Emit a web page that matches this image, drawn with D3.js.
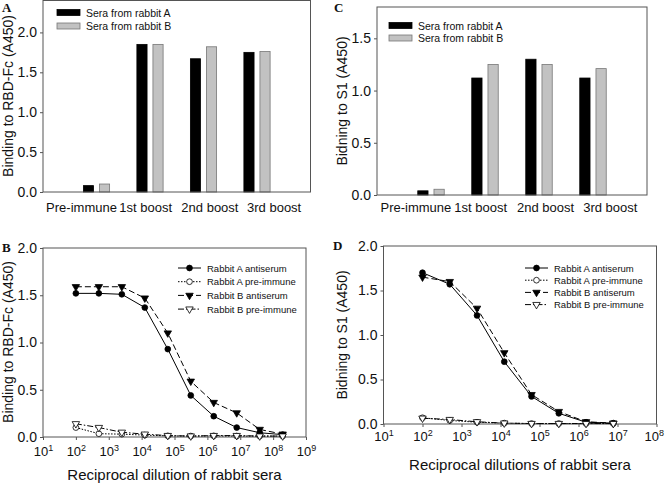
<!DOCTYPE html>
<html><head><meta charset="utf-8">
<script src="https://cdn.jsdelivr.net/npm/d3@7"></script>
<style>body{margin:0;background:#fff}svg{display:block}</style>
</head><body>
<svg id="c" width="665" height="483"></svg>
<script>
// ---------- data ----------
const boosts = ["Pre-immune", "1st boost", "2nd boost", "3rd boost"];
const barSeries = ["Sera from rabbit A", "Sera from rabbit B"];
const rbdRabbitA = [0.08, 1.85, 1.67, 1.75];
const rbdRabbitB = [0.10, 1.85, 1.82, 1.76];
const s1RabbitA = [0.04, 1.12, 1.30, 1.12];
const s1RabbitB = [0.055, 1.25, 1.25, 1.21];
const barTicksA = [0, 0.5, 1.0, 1.5, 2.0];
const barTicksC = [0, 0.5, 1.0, 1.5];

const lineSeries = ["Rabbit A antiserum", "Rabbit A pre-immune", "Rabbit B antiserum", "Rabbit B pre-immune"];
const dilutionsB = [100, 500, 2500, 12500, 62500, 312500, 1562500, 7812500, 39062500, 195312500];
const rbdA_anti = [1.52, 1.52, 1.51, 1.37, 0.93, 0.44, 0.22, 0.10, 0.045, 0.025];
const rbdA_pre  = [0.10, 0.035, 0.03, 0.02, 0.012, 0.01, 0.012, 0.01, 0.01, 0.01];
const rbdB_anti = [1.59, 1.59, 1.59, 1.47, 1.10, 0.59, 0.365, 0.255, 0.08, 0.03];
const rbdB_pre  = [0.14, 0.10, 0.05, 0.03, 0.015, 0.01, 0.015, 0.015, 0.01, 0.01];
const dilutionsD = [100, 500, 2500, 12500, 62500, 312500, 1562500, 7812500];
const s1A_anti = [1.70, 1.57, 1.22, 0.70, 0.31, 0.12, 0.02, 0.01];
const s1A_pre  = [0.07, 0.04, 0.02, 0.01, 0.005, 0.005, 0.005, 0.005];
const s1B_anti = [1.65, 1.60, 1.30, 0.80, 0.33, 0.14, 0.025, 0.01];
const s1B_pre  = [0.065, 0.05, 0.025, 0.01, 0.005, 0.005, 0.005, 0.005];
const lineYTicks = [0, 0.5, 1.0, 1.5, 2.0];
const decadeExpB = [1, 2, 3, 4, 5, 6, 7, 8, 9];
const decadeExpD = [1, 2, 3, 4, 5, 6, 7, 8];

// ---------- drawing ----------
const svg = d3.select("#c");
const W = 665;
const FONT = "Liberation Sans, Arial, sans-serif";
const FRAME = "#555";
const GREY = "#c2c2c2";

function frame(g, l, r, t, b) {
  g.append("rect").attr("x", l).attr("y", t).attr("width", r - l).attr("height", b - t)
    .attr("fill", "none").attr("stroke", FRAME).attr("stroke-width", 1);
}
function yAxis(g, y, left, ticks, size) {
  const ax = g.append("g").attr("transform", `translate(${left},0)`)
    .call(d3.axisLeft(y).tickValues(ticks).tickFormat(d3.format(".1f")).tickSize(3).tickPadding(3));
  ax.select(".domain").remove();
  ax.selectAll(".tick line").attr("stroke", FRAME);
  ax.selectAll(".tick text").attr("font-family", FONT).attr("font-size", size).attr("fill", "#111");
}
function letter(txt, x, y) {
  svg.append("text").attr("x", x).attr("y", y).text(txt)
    .attr("font-family", "Liberation Serif, Times New Roman, serif").attr("font-weight", "bold")
    .attr("font-size", 13).attr("fill", "#111");
}
function yTitle(txt, x, cy, size) {
  svg.append("text").attr("transform", `translate(${x},${cy}) rotate(-90)`)
    .attr("text-anchor", "middle").attr("font-family", FONT).attr("font-size", size)
    .attr("fill", "#111").text(txt);
}

function barPanel(o) {
  const g = svg.append("g");
  const x = d3.scaleLinear().domain([0, 5]).range([o.l, o.r]);
  const y = d3.scaleLinear().domain([0, o.ymax]).range([o.b, o.t]);
  const bw = 0.19, off = 0.15;
  const series = [{vals: o.A, fill: "#000", stroke: "#000", dx: -off},
                  {vals: o.B, fill: GREY, stroke: "#777", dx: off}];
  series.forEach(s => {
    g.selectAll(null).data(s.vals).enter().append("rect")
      .attr("x", (d, i) => x(i + 1 + s.dx - bw / 2))
      .attr("width", x(bw) - x(0))
      .attr("y", d => y(d)).attr("height", d => y(0) - y(d))
      .attr("fill", s.fill).attr("stroke", s.stroke).attr("stroke-width", 0.8);
  });
  frame(g, o.l, o.r, o.t, o.b);
  yAxis(g, y, o.l, o.ticks, 14);
  g.selectAll(null).data(boosts).enter().append("text")
    .attr("x", (d, i) => x(0.72 + 1.2 * i)).attr("y", o.labY)
    .attr("text-anchor", "middle").attr("font-family", FONT).attr("font-size", 13)
    .attr("fill", "#111").text(d => d);
  // legend
  const lg = g.append("g");
  barSeries.forEach((s, i) => {
    const yy = o.legY + i * o.legDy;
    lg.append("rect").attr("x", o.legX).attr("y", yy - 3).attr("width", 23).attr("height", 6)
      .attr("fill", i === 0 ? "#000" : GREY).attr("stroke", i === 0 ? "#000" : "#777").attr("stroke-width", 0.8);
    lg.append("text").attr("x", o.legX + 29).attr("y", yy + 4).text(s)
      .attr("font-family", FONT).attr("font-size", 10.5).attr("fill", "#111");
  });
}

const symCircle = d3.symbol().type(d3.symbolCircle).size(26);
const symTri = d3.symbol().type(d3.symbolTriangle).size(24);
const styles = [
  {dash: null, sym: symCircle, fill: "#000", rot: 0},
  {dash: "1.5,1.5", sym: symCircle, fill: "#fff", rot: 0},
  {dash: "6,3", sym: symTri, fill: "#000", rot: 180},
  {dash: "6,2,1.5,2", sym: symTri, fill: "#fff", rot: 180}
];

function linePanel(o) {
  const g = svg.append("g");
  const x = d3.scaleLog().domain(o.xdom).range([o.l, o.r]);
  const y = d3.scaleLinear().domain([0, 2]).range([o.b, o.t]);
  frame(g, o.l, o.r, o.t, o.b);
  yAxis(g, y, o.l, lineYTicks, 14);
  const xa = g.append("g").attr("transform", `translate(0,${o.b})`)
    .call(d3.axisBottom(x).tickValues(o.exps.map(e => Math.pow(10, e))).tickSize(3).tickPadding(4).tickFormat(""));
  xa.select(".domain").remove();
  xa.selectAll(".tick line").attr("stroke", FRAME);
  xa.selectAll(".tick").each(function (d) {
    const t = d3.select(this).append("text").attr("y", o.xLabDy).attr("fill", "#111")
      .attr("font-family", FONT).attr("font-size", 13).attr("text-anchor", "middle");
    t.append("tspan").text("10");
    t.append("tspan").attr("dy", -5).attr("font-size", 9).text(Math.round(Math.log10(d)));
    // keep the label inside the page
    const bb = this.getBBox ? t.node().getBoundingClientRect() : null;
    if (bb && bb.right > W - 1) t.attr("x", -(bb.right - (W - 1)));
  });
  const line = d3.line().x(d => x(d[0])).y(d => y(d[1]));
  o.series.forEach((vals, k) => {
    const st = styles[k];
    const pts = o.dil.map((dv, i) => [dv, vals[i]]);
    g.append("path").datum(pts).attr("d", line).attr("fill", "none").attr("stroke", "#000")
      .attr("stroke-width", 1).attr("stroke-dasharray", st.dash);
    g.selectAll(null).data(pts).enter().append("path")
      .attr("d", st.sym).attr("transform", d => `translate(${x(d[0])},${y(d[1])}) rotate(${st.rot})`)
      .attr("fill", st.fill).attr("stroke", "#000").attr("stroke-width", 0.8);
  });
  // legend
  lineSeries.forEach((s, k) => {
    const st = styles[k];
    const yy = o.legY + k * o.legDy;
    g.append("line").attr("x1", o.legX).attr("x2", o.legX + 23).attr("y1", yy).attr("y2", yy)
      .attr("stroke", "#000").attr("stroke-width", 1).attr("stroke-dasharray", st.dash);
    g.append("path").attr("d", st.sym).attr("transform", `translate(${o.legX + 11.5},${yy}) rotate(${st.rot})`)
      .attr("fill", st.fill).attr("stroke", "#000").attr("stroke-width", 0.8);
    g.append("text").attr("x", o.legX + 29).attr("y", yy + 3.5).text(s)
      .attr("font-family", FONT).attr("font-size", o.legFont).attr("fill", "#111");
  });
  svg.append("text").attr("x", (o.l + o.r) / 2).attr("y", o.xTitleY).attr("text-anchor", "middle")
    .attr("font-family", FONT).attr("font-size", 15).attr("fill", "#111").text(o.xTitle);
}

// Panel A
barPanel({l: 43, r: 310.5, t: 0.5, b: 192, ymax: 2.4, ticks: barTicksA, A: rbdRabbitA, B: rbdRabbitB,
  labY: 212, legX: 57, legY: 12.5, legDy: 13.5});
yTitle("Binding to RBD-Fc (A450)", 13, 96, 14);
letter("A", 2, 12);

// Panel C
barPanel({l: 377, r: 647, t: 7, b: 195, ymax: 1.8, ticks: barTicksC, A: s1RabbitA, B: s1RabbitB,
  labY: 212, legX: 389, legY: 25.5, legDy: 12.5});
yTitle("Bidning to S1 (A450)", 347, 101, 14);
letter("C", 334, 12);

// Panel B
linePanel({l: 43, r: 306, t: 248, b: 437, xdom: [10, 1e9], exps: decadeExpB, dil: dilutionsB,
  series: [rbdA_anti, rbdA_pre, rbdB_anti, rbdB_pre], legX: 178, legY: 268, legDy: 13.7, legFont: 9.5,
  xLabDy: 19, xTitle: "Reciprocal dilution of rabbit sera", xTitleY: 480});
yTitle("Binding to RBD-Fc (A450)", 13, 342, 14);
letter("B", 2, 252);

// Panel D
linePanel({l: 383.5, r: 656.5, t: 246, b: 424, xdom: [10, 1e8], exps: decadeExpD, dil: dilutionsD,
  series: [s1A_anti, s1A_pre, s1B_anti, s1B_pre], legX: 525, legY: 268, legDy: 12.2, legFont: 9.5,
  xLabDy: 17, xTitle: "Reciprocal dilutions of rabbit sera", xTitleY: 470});
yTitle("Bidning to S1 (A450)", 347, 335, 14);
letter("D", 333, 250);
</script>
</body></html>
